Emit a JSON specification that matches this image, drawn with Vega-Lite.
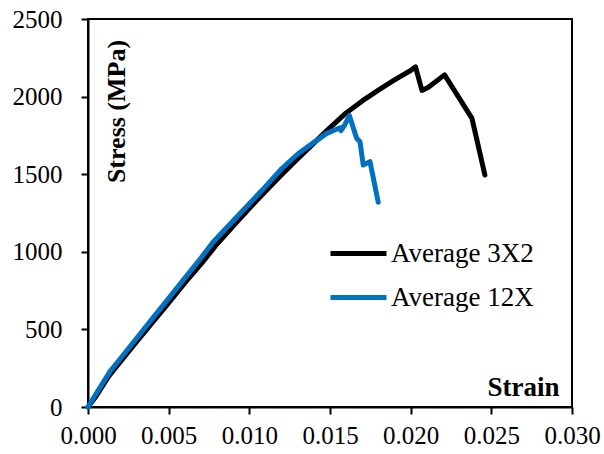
{
  "$schema": "https://vega.github.io/schema/vega-lite/v6.json",
  "width": 484,
  "height": 388,
  "autosize": "none",
  "padding": {"left": 88, "top": 19, "right": 32, "bottom": 47},
  "background": "white",
  "config": {
    "view": {"stroke": "#000000", "strokeWidth": 2},
    "font": "Liberation Serif"
  },
  "data": {
    "values": [
      {"s": "Average 3X2", "i": 1, "x": 0, "y": 0},
      {"s": "Average 3X2", "i": 2, "x": 0.0005, "y": 70},
      {"s": "Average 3X2", "i": 3, "x": 0.0013, "y": 200},
      {"s": "Average 3X2", "i": 4, "x": 0.002, "y": 290},
      {"s": "Average 3X2", "i": 5, "x": 0.003, "y": 420},
      {"s": "Average 3X2", "i": 6, "x": 0.004, "y": 545},
      {"s": "Average 3X2", "i": 7, "x": 0.005, "y": 670},
      {"s": "Average 3X2", "i": 8, "x": 0.006, "y": 800},
      {"s": "Average 3X2", "i": 9, "x": 0.007, "y": 920},
      {"s": "Average 3X2", "i": 10, "x": 0.008, "y": 1050},
      {"s": "Average 3X2", "i": 11, "x": 0.009, "y": 1165},
      {"s": "Average 3X2", "i": 12, "x": 0.010, "y": 1280},
      {"s": "Average 3X2", "i": 13, "x": 0.011, "y": 1390},
      {"s": "Average 3X2", "i": 14, "x": 0.012, "y": 1497},
      {"s": "Average 3X2", "i": 15, "x": 0.013, "y": 1600},
      {"s": "Average 3X2", "i": 16, "x": 0.014, "y": 1700},
      {"s": "Average 3X2", "i": 17, "x": 0.015, "y": 1800},
      {"s": "Average 3X2", "i": 18, "x": 0.016, "y": 1895},
      {"s": "Average 3X2", "i": 19, "x": 0.017, "y": 1972},
      {"s": "Average 3X2", "i": 20, "x": 0.018, "y": 2042},
      {"s": "Average 3X2", "i": 21, "x": 0.019, "y": 2108},
      {"s": "Average 3X2", "i": 22, "x": 0.020, "y": 2168},
      {"s": "Average 3X2", "i": 23, "x": 0.0203, "y": 2192},
      {"s": "Average 3X2", "i": 24, "x": 0.0207, "y": 2040},
      {"s": "Average 3X2", "i": 25, "x": 0.0211, "y": 2060},
      {"s": "Average 3X2", "i": 26, "x": 0.0221, "y": 2140},
      {"s": "Average 3X2", "i": 27, "x": 0.0238, "y": 1860},
      {"s": "Average 3X2", "i": 28, "x": 0.0246, "y": 1495},
      {"s": "Average 12X", "i": 1, "x": 0, "y": 0},
      {"s": "Average 12X", "i": 2, "x": 0.0005, "y": 85},
      {"s": "Average 12X", "i": 3, "x": 0.00136, "y": 228},
      {"s": "Average 12X", "i": 4, "x": 0.002, "y": 311},
      {"s": "Average 12X", "i": 5, "x": 0.003, "y": 441},
      {"s": "Average 12X", "i": 6, "x": 0.004, "y": 571},
      {"s": "Average 12X", "i": 7, "x": 0.005, "y": 700},
      {"s": "Average 12X", "i": 8, "x": 0.006, "y": 830},
      {"s": "Average 12X", "i": 9, "x": 0.007, "y": 960},
      {"s": "Average 12X", "i": 10, "x": 0.00777, "y": 1065},
      {"s": "Average 12X", "i": 11, "x": 0.009, "y": 1200},
      {"s": "Average 12X", "i": 12, "x": 0.010, "y": 1310},
      {"s": "Average 12X", "i": 13, "x": 0.011, "y": 1420},
      {"s": "Average 12X", "i": 14, "x": 0.012, "y": 1535},
      {"s": "Average 12X", "i": 15, "x": 0.013, "y": 1630},
      {"s": "Average 12X", "i": 16, "x": 0.014, "y": 1705},
      {"s": "Average 12X", "i": 17, "x": 0.0148, "y": 1763},
      {"s": "Average 12X", "i": 18, "x": 0.0154, "y": 1790},
      {"s": "Average 12X", "i": 19, "x": 0.0157, "y": 1800},
      {"s": "Average 12X", "i": 20, "x": 0.01568, "y": 1780},
      {"s": "Average 12X", "i": 21, "x": 0.0159, "y": 1815},
      {"s": "Average 12X", "i": 22, "x": 0.0162, "y": 1878},
      {"s": "Average 12X", "i": 23, "x": 0.01665, "y": 1731},
      {"s": "Average 12X", "i": 24, "x": 0.01686, "y": 1709},
      {"s": "Average 12X", "i": 25, "x": 0.01706, "y": 1559},
      {"s": "Average 12X", "i": 26, "x": 0.01748, "y": 1581},
      {"s": "Average 12X", "i": 27, "x": 0.01799, "y": 1320}
    ]
  },
  "encoding": {
    "x": {
      "field": "x", "type": "quantitative",
      "scale": {"domain": [0, 0.03], "nice": false, "zero": false},
      "axis": {
        "values": [0, 0.005, 0.01, 0.015, 0.02, 0.025, 0.03],
        "format": ".3f", "grid": false,
        "domainColor": "#000000", "domainWidth": 2,
        "tickColor": "#000000", "tickWidth": 2, "tickSize": 7,
        "labelFont": "Liberation Serif", "labelFontSize": 25, "labelColor": "#000000",
        "labelPadding": 9, "labelFlush": false,
        "title": "Strain", "titleFont": "Liberation Serif", "titleFontSize": 27,
        "titleFontWeight": "bold", "titleColor": "#000000",
        "titleAnchor": null, "titleX": 471, "titleY": -12,
        "titleAlign": "right", "titleBaseline": "alphabetic"
      }
    },
    "y": {
      "field": "y", "type": "quantitative",
      "scale": {"domain": [0, 2500], "nice": false},
      "axis": {
        "values": [0, 500, 1000, 1500, 2000, 2500],
        "format": "d", "grid": false,
        "domainColor": "#000000", "domainWidth": 2,
        "tickColor": "#000000", "tickWidth": 2, "tickSize": 7,
        "labelFont": "Liberation Serif", "labelFontSize": 25, "labelColor": "#000000",
        "labelPadding": 19, "labelFlush": false,
        "title": "Stress (MPa)", "titleFont": "Liberation Serif", "titleFontSize": 26,
        "titleFontWeight": "bold", "titleColor": "#000000",
        "titleAngle": -90, "titleAnchor": null, "titleX": 36, "titleY": 92,
        "titleAlign": "center", "titleBaseline": "alphabetic"
      }
    },
    "color": {
      "field": "s", "type": "nominal",
      "scale": {"domain": ["Average 3X2", "Average 12X"], "range": ["#000000", "#0070C0"]},
      "legend": {
        "title": null, "orient": "none", "legendX": 240, "legendY": 204,
        "symbolType": "stroke", "symbolSize": 3136, "symbolStrokeWidth": 5,
        "labelFont": "Liberation Serif", "labelFontSize": 27, "labelColor": "#000000",
        "labelOffset": 2, "rowPadding": -19, "padding": 0
      }
    },
    "order": {"field": "i", "type": "quantitative"}
  },
  "layer": [
    {
      "transform": [{"filter": "datum.s === 'Average 3X2'"}],
      "mark": {"type": "line", "strokeWidth": 5, "strokeJoin": "round", "strokeCap": "round"}
    },
    {
      "transform": [{"filter": "datum.s === 'Average 12X'"}],
      "mark": {"type": "line", "strokeWidth": 5, "strokeJoin": "round", "strokeCap": "round"}
    }
  ]
}
